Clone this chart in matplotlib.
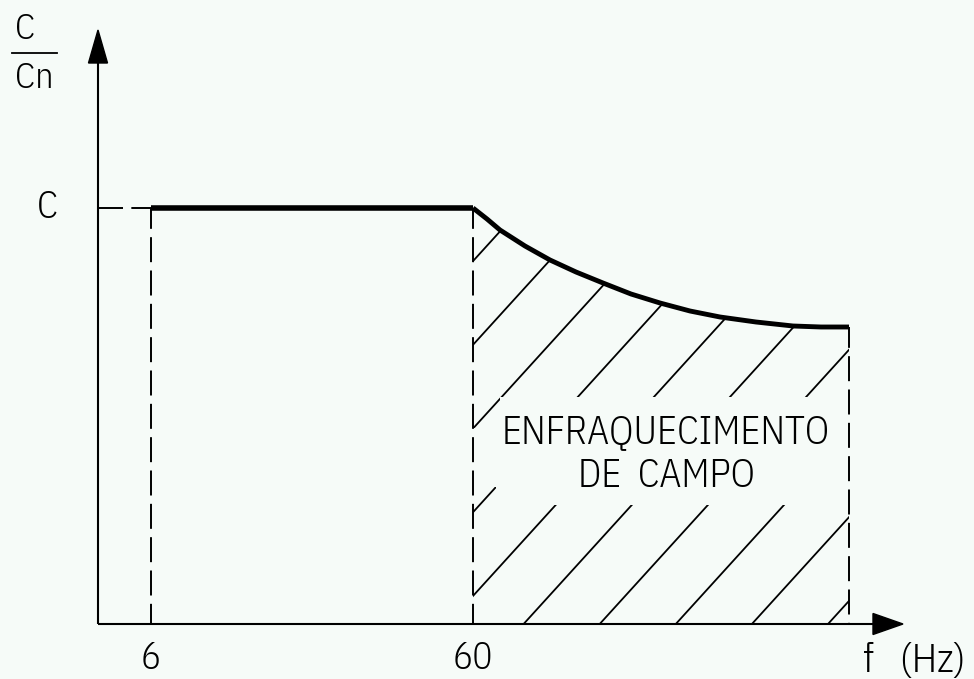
import numpy as np
import matplotlib
matplotlib.use("Agg")
import matplotlib.pyplot as plt
from matplotlib.patches import Polygon

# schematic units: pixels measured from the axis origin (x right, y up)
f_labels = ["6", "60"]
f_pos = [53, 375]            # where 6 Hz and 60 Hz sit on the frequency axis
f_end = 751                  # end of the field weakening region
c_level = 416                # nominal torque level C

# torque curve in the field weakening region
curve_x = [375, 389, 402, 427, 452, 478, 505, 533, 562, 592, 622, 658, 695, 723, 751]
curve_y = [416, 405, 394, 378, 364, 352, 341, 330, 321, 313, 307, 302, 298, 297, 297]

hatch_step = 76.1
hatch_slope = 1.1

bg = "#f6fbf8"
plt.rcParams["lines.scale_dashes"] = False
font = dict(family=["IBM Plex Sans Condensed", "Open Sans", "DejaVu Sans"], weight=300, stretch="condensed")

fig = plt.figure(figsize=(9.74, 6.79), dpi=100, facecolor=bg)
ax = fig.add_axes([0, 0, 1, 1], facecolor=bg)
ax.set_xlim(-98, 876)
ax.set_ylim(-55, 624)
ax.axis("off")

dash = (0, (18, 6))

# axes with arrow heads
ax.plot([0, 0], [0, 570], color="k", lw=1.5, solid_capstyle="butt")
ax.plot([0, 780], [0, 0], color="k", lw=1.5, solid_capstyle="butt")
ax.add_patch(Polygon([[0, 594], [-9.5, 561], [9.5, 561]], closed=True, color="k"))
ax.add_patch(Polygon([[805, 0], [775, 10.5], [775, -10.5]], closed=True, color="k"))

# hatching under the curve
region = np.column_stack([[f_pos[1]] + curve_x + [f_end], [0] + curve_y + [0]])
clip = Polygon(region, closed=True, facecolor="none", edgecolor="none")
ax.add_patch(clip)
for k in range(12):
    x0 = -31 + hatch_step * k
    ln, = ax.plot([x0, x0 + 700 / hatch_slope], [0, 700], color="k", lw=1.3, zorder=2)
    ln.set_clip_path(clip)

# blank band behind the label
gap = [[375, 196], [402, 196], [402, 227], [751, 227], [751, 119],
       [398, 119], [398, 137], [375, 137]]
ax.add_patch(Polygon(gap, closed=True, facecolor=bg, edgecolor="none", zorder=3))

# dashed guides
ax.plot([0, f_pos[0]], [c_level, c_level], color="k", lw=1.4, linestyle=dash, zorder=4)
for x, top in [(f_pos[0], c_level), (f_pos[1], c_level), (f_end, curve_y[-1])]:
    ax.plot([x, x], [top, 0], color="k", lw=1.4, linestyle=(3, (18, 6)), zorder=4)

# torque characteristic
ax.plot([f_pos[0], f_pos[1]], [c_level, c_level], color="k", lw=4, solid_capstyle="butt", zorder=5)
ax.plot(curve_x, curve_y, color="k", lw=3.5, solid_capstyle="butt", solid_joinstyle="round", zorder=5)

# labels
ax.text(-51, 416, "C", ha="center", va="center", fontsize=27, **font)
ax.text(-73, 595, "C", ha="center", va="center", fontsize=26, **font)
ax.plot([-86, -41], [571, 571], color="k", lw=1.3)
ax.text(-64, 546, "Cn", ha="center", va="center", fontsize=26, **font)
for lab, x in zip(f_labels, f_pos):
    ax.text(x, -35, lab, ha="center", va="center", fontsize=27, **font)
ax.text(765, -48, "f   (Hz)", ha="left", va="baseline", fontsize=29, **font)
ax.text(568, 192, "ENFRAQUECIMENTO", ha="center", va="center", fontsize=28, zorder=6, **font)
ax.text(568, 148, "DE  CAMPO", ha="center", va="center", fontsize=28, zorder=6, **font)

fig.savefig("out.png", dpi=100, facecolor=bg)
